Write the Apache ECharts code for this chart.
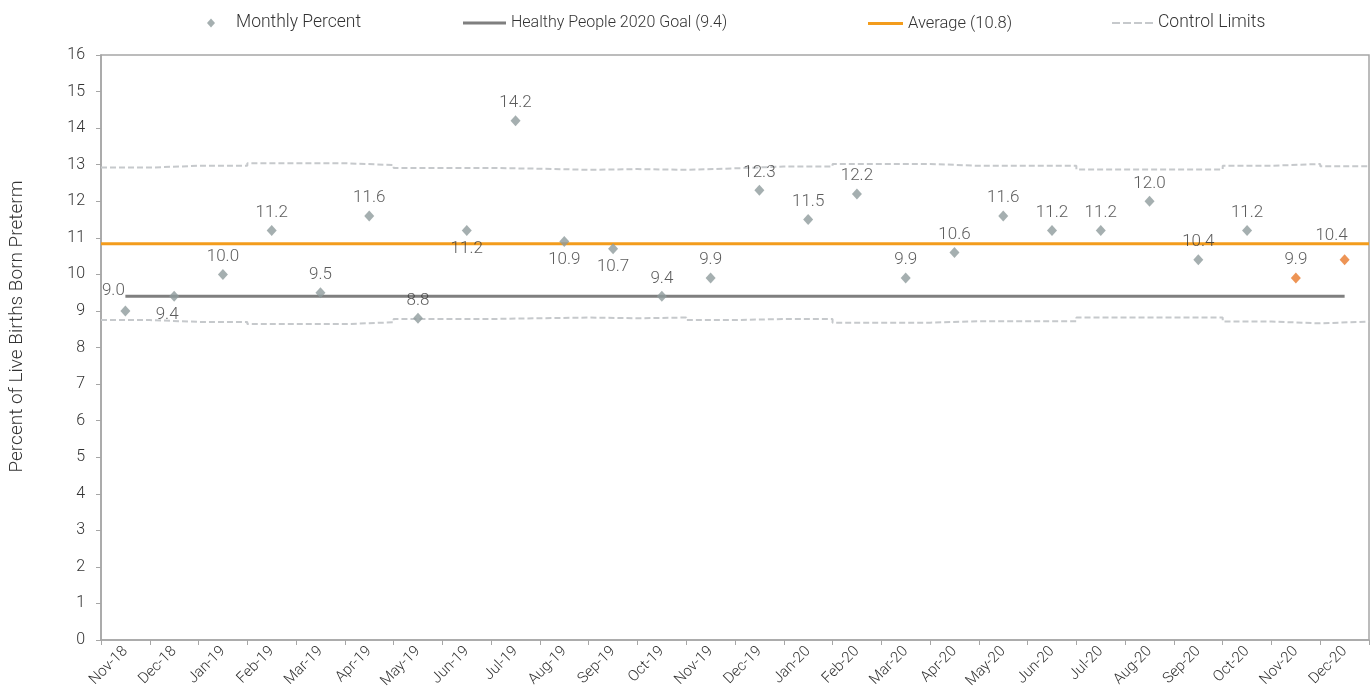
<!DOCTYPE html>
<html lang="en" style="height: 100%">
  <head>
    <meta charset="utf-8" />
    <style>
      html, body { margin: 0; padding: 0; background: #fff; }
      #container { width: 1372px; height: 698px; }
    </style>
  </head>
  <body>
    <div id="container"></div>
    <script type="text/javascript" src="https://cdn.jsdelivr.net/npm/echarts@6/dist/echarts.min.js"></script>
    <script type="text/javascript">
      // months shown on the x axis
      var months = [
        "Nov-18", "Dec-18", "Jan-19", "Feb-19", "Mar-19", "Apr-19", "May-19",
        "Jun-19", "Jul-19", "Aug-19", "Sep-19", "Oct-19", "Nov-19", "Dec-19",
        "Jan-20", "Feb-20", "Mar-20", "Apr-20", "May-20", "Jun-20", "Jul-20",
        "Aug-20", "Sep-20", "Oct-20", "Nov-20", "Dec-20",
      ];
      var monthlyPercent = [
        9.0, 9.4, 10.0, 11.2, 9.5, 11.6, 8.8, 11.2, 14.2, 10.9, 10.7, 9.4, 9.9,
        12.3, 11.5, 12.2, 9.9, 10.6, 11.6, 11.2, 11.2, 12.0, 10.4, 11.2, 9.9, 10.4,
      ];
      var upperLimit = [
        12.92, 12.97, 12.97, 13.04, 13.04, 12.99, 12.91, 12.91, 12.89, 12.86,
        12.88, 12.86, 12.9, 12.95, 12.95, 13.02, 13.02, 12.97, 12.97, 12.97,
        12.87, 12.87, 12.87, 12.97, 13.02, 12.96,
      ];
      var lowerLimit = [
        8.75, 8.7, 8.7, 8.64, 8.64, 8.69, 8.78, 8.78, 8.8, 8.82, 8.8, 8.82,
        8.75, 8.78, 8.78, 8.68, 8.68, 8.72, 8.72, 8.72, 8.82, 8.82, 8.82, 8.71,
        8.66, 8.71,
      ];
      var goalValue = 9.4;
      var averageValue = 10.84;
      var orangeMonths = ["Nov-20", "Dec-20"];

      var textColor = "#333333";
      var font = "Roboto";

      // label tweaks so they sit like the original
      var labelBelow = ["Dec-18", "Jun-19", "Aug-19", "Sep-19"];
      var labelShift = { "Nov-18": [-12, -2], "Dec-18": [-7, 0], "Dec-20": [-13, -6] };

      var scatterData = months.map(function (m, i) {
        var item = { value: monthlyPercent[i] };
        if (orangeMonths.indexOf(m) >= 0) item.itemStyle = { color: "#E8792B" };
        var lab = {};
        if (labelBelow.indexOf(m) >= 0) lab.position = "bottom";
        if (labelShift[m]) lab.offset = labelShift[m];
        item.label = lab;
        return item;
      });

      // each month's limit is held flat across its whole category slot
      function stepData(arr) {
        var out = [];
        arr.forEach(function (v, i) {
          out.push([i, v]);
          out.push([i + 1, v]);
        });
        return out;
      }

      var dom = document.getElementById("container");
      var myChart = echarts.init(dom, null, { renderer: "canvas" });

      function legendText(size) {
        return { color: textColor, fontFamily: font, fontSize: size, fontWeight: 300 };
      }
      var dashIcon = "path://M0,0h8v2h-8z M11,0h8v2h-8z M22,0h8v2h-8z M33,0h8v2h-8z";

      var option = {
        animation: false,
        backgroundColor: "#ffffff",
        textStyle: { fontFamily: font },
        grid: {
          left: 101, right: 3, top: 55, bottom: 58,
          show: true, borderColor: "#A6A6A6", borderWidth: 1.5,
        },
        legend: [
          {
            data: ["Monthly Percent"], left: 202, top: 9,
            icon: "diamond", itemWidth: 8, itemHeight: 9,
            textStyle: Object.assign({ padding: [0, 0, 0, 16] }, legendText(17.5)),
          },
          {
            data: ["Healthy People 2020 Goal (9.4)"], left: 458, top: 10,
            icon: "rect", itemWidth: 43, itemHeight: 3, textStyle: legendText(16),
          },
          {
            data: ["Average (10.8)"], left: 863, top: 10,
            icon: "rect", itemWidth: 35, itemHeight: 3, textStyle: legendText(16.5),
          },
          {
            data: ["Control Limits"], left: 1107, top: 9,
            icon: dashIcon, itemWidth: 41, itemHeight: 2, textStyle: legendText(17.5),
          },
        ],
        xAxis: [
          {
            type: "category",
            data: months,
            boundaryGap: true,
            axisLine: { lineStyle: { color: "#A6A6A6", width: 1.5 } },
            axisTick: { show: true, length: 5, lineStyle: { color: "#A6A6A6" } },
            axisLabel: {
              rotate: 45, color: textColor, fontSize: 15, fontFamily: font,
              fontWeight: 300, interval: 0, margin: 9,
            },
          },
          { type: "value", min: 0, max: months.length, show: false },
        ],
        yAxis: {
          type: "value",
          min: 0, max: 16, interval: 1,
          name: "Percent of Live Births Born Preterm",
          nameLocation: "middle",
          nameGap: 74,
          nameTextStyle: {
            color: textColor, fontSize: 19, fontFamily: font, fontWeight: 300,
            padding: [0, 0, 0, 42],
          },
          splitLine: { show: false },
          axisLine: { show: true, lineStyle: { color: "#A6A6A6", width: 1.5 } },
          axisTick: { show: true, length: 5, lineStyle: { color: "#A6A6A6" } },
          axisLabel: { color: textColor, fontSize: 16, fontFamily: font, fontWeight: 300, margin: 16 },
        },
        series: [
          {
            name: "Control Limits",
            type: "line",
            xAxisIndex: 1,
            symbol: "none",
            data: stepData(upperLimit),
            lineStyle: { color: "#C6C9CC", width: 2, type: [6, 3] },
            itemStyle: { color: "#C6C9CC" },
            z: 1,
          },
          {
            name: "Control Limits",
            type: "line",
            xAxisIndex: 1,
            symbol: "none",
            data: stepData(lowerLimit),
            lineStyle: { color: "#C6C9CC", width: 2, type: [6, 3] },
            itemStyle: { color: "#C6C9CC" },
            z: 1,
          },
          {
            name: "Average (10.8)",
            type: "line",
            xAxisIndex: 1,
            symbol: "none",
            data: [[0, averageValue], [months.length, averageValue]],
            lineStyle: { color: "#F39C1C", width: 3 },
            itemStyle: { color: "#F39C1C" },
            z: 2,
          },
          {
            name: "Healthy People 2020 Goal (9.4)",
            type: "line",
            symbol: "none",
            data: [[months[0], goalValue], [months[months.length - 1], goalValue]],
            lineStyle: { color: "#7F7F7F", width: 3 },
            itemStyle: { color: "#7F7F7F" },
            z: 2,
          },
          {
            name: "Monthly Percent",
            type: "scatter",
            symbol: "diamond",
            symbolSize: [10, 11],
            itemStyle: { color: "#8E9B9C" },
            data: scatterData,
            label: {
              show: true,
              position: "top",
              distance: 4,
              color: textColor,
              fontSize: 17,
              fontFamily: font,
              fontWeight: 300,
              formatter: function (p) { return p.value.toFixed(1); },
            },
            z: 3,
          },
        ],
      };

      myChart.setOption(option);
      window.addEventListener("resize", myChart.resize);
    </script>
  </body>
</html>
